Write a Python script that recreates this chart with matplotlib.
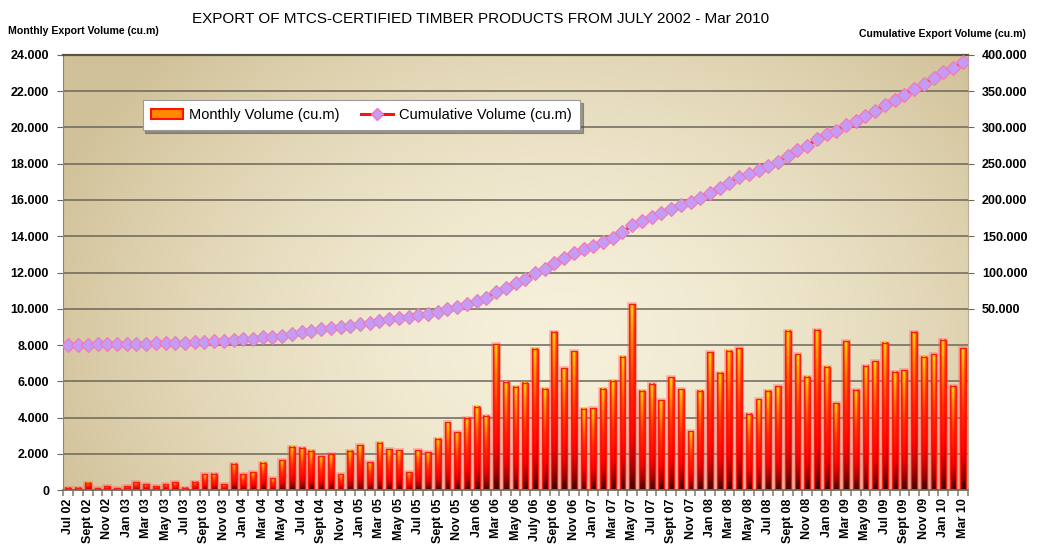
import numpy as np
import matplotlib
matplotlib.use("Agg")
import matplotlib.pyplot as plt
from matplotlib.patches import Patch
from matplotlib.lines import Line2D
from matplotlib.ticker import FuncFormatter, FixedLocator

plt.rcParams['font.family'] = ['Liberation Sans', 'DejaVu Sans']

# monthly export volume (cu.m), Jul 2002 .. Mar 2010
vol_2002 = [130, 130, 400, 90, 220, 90]
vol_2003 = [220, 420, 330, 220, 330, 420, 130, 460, 860, 900, 310, 1450]
vol_2004 = [860, 990, 1500, 640, 1650, 2390, 2330, 2170, 1850, 1960, 860, 2170]
vol_2005 = [2460, 1540, 2610, 2260, 2180, 990, 2180, 2070, 2840, 3740, 3190, 3980]
vol_2006 = [4600, 4110, 8050, 5980, 5690, 5930, 7780, 5580, 8720, 6730, 7650, 4480]
vol_2007 = [4510, 5580, 6020, 7340, 10240, 5470, 5870, 4950, 6220, 5560, 3250, 5470]
vol_2008 = [7610, 6480, 7690, 7820, 4220, 5010, 5470, 5720, 8790, 7490, 6240, 8830]
vol_2009 = [6790, 4790, 8220, 5540, 6860, 7100, 8130, 6530, 6620, 8720, 7360, 7490]
vol_2010 = [8290, 5740, 7820]

monthly = np.array(vol_2002 + vol_2003 + vol_2004 + vol_2005 + vol_2006
                   + vol_2007 + vol_2008 + vol_2009 + vol_2010, dtype=float)
cumulative = np.cumsum(monthly)

tick_labels = ["Jul 02", "Sept 02", "Nov 02",
               "Jan 03", "Mar 03", "May 03", "Jul 03", "Sept 03", "Nov 03",
               "Jan 04", "Mar 04", "May 04", "Jul 04", "Sept 04", "Nov 04",
               "Jan 05", "Mar 05", "May 05", "Jul 05", "Sept 05", "Nov 05",
               "Jan 06", "Mar 06", "May 06", "July 06", "Sept 06", "Nov 06",
               "Jan 07", "Mar 07", "May 07", "Jul 07", "Sept 07", "Nov 07",
               "Jan 08", "Mar 08", "May 08", "Jul 08", "Sept 08", "Nov 08",
               "Jan 09", "Mar 09", "May 09", "Jul 09", "Sept 09", "Nov 09",
               "Jan 10", "Mar 10"]

left_ticks = np.arange(0, 24001, 2000)
right_ticks = np.arange(50000, 400001, 50000)


def dot_thousands(v, pos=None):
    return f"{v:,.0f}".replace(",", ".")


def bar_gradient(n=64, m=16):
    v = np.linspace(0, 1, n)[:, None]
    u = np.linspace(0, 1, m)[None, :]
    h = 1 - np.abs(2 * u - 1)
    s = v * (0.55 + 0.45 * h ** 1.3)
    stops = [0.0, 0.08, 0.22, 0.5, 0.75, 0.95]
    cols = np.array([[0.2, 0.0, 0.0], [0.6, 0.0, 0.0], [1.0, 0.0, 0.0],
                     [1.0, 0.18, 0.0], [1.0, 0.58, 0.0], [1.0, 0.95, 0.05]])
    img = np.zeros((n, m, 3))
    for c in range(3):
        img[..., c] = np.interp(s, stops, cols[:, c])
    return img


def background(n=200, m=400):
    yy, xx = np.mgrid[0:1:n * 1j, 0:1:m * 1j]
    d = np.sqrt(((xx - 0.55) / 0.6) ** 2 + ((yy - 0.35) / 0.95) ** 2)
    d = np.clip(d, 0, 1) ** 1.6
    light = np.array([0.965, 0.94, 0.855])
    dark = np.array([0.82, 0.76, 0.6])
    return light[None, None, :] * (1 - d[..., None]) + dark[None, None, :] * d[..., None]


fig = plt.figure(figsize=(10.38, 5.45), dpi=100)
ax = fig.add_axes([0.0607, 0.1009, 0.8719, 0.7982])
x = np.arange(len(monthly))

ax.imshow(background(), extent=[0, 1, 0, 1], transform=ax.transAxes,
          aspect='auto', origin='lower', zorder=0)

for t in left_ticks:
    ax.axhline(t, color='#6b665a', lw=1.1, zorder=1)

bars = ax.bar(x, monthly, width=0.6, facecolor='none', edgecolor='#ff1a10',
              lw=1.0, zorder=3)
grad = bar_gradient()
for b in bars:
    ax.imshow(grad, extent=[b.get_x(), b.get_x() + b.get_width(), 0, b.get_height()],
              aspect='auto', origin='lower', zorder=2)
    # soft glow around the bar
    ax.add_patch(plt.Rectangle((b.get_x(), 0), b.get_width(), b.get_height(),
                               fill=False, edgecolor='#ff6060', lw=2.8, alpha=0.35, zorder=1.5))
ax.set_xlim(-0.55, len(monthly) - 0.45)
ax.set_ylim(0, 24000)

ax.yaxis.set_major_locator(FixedLocator(left_ticks))
ax.yaxis.set_major_formatter(FuncFormatter(dot_thousands))
ax.tick_params(axis='y', length=4, color='#6b665a', labelsize=9, pad=6)
for lab in ax.get_yticklabels():
    lab.set_fontweight('bold')

ax.set_xticks(x[::2])
ax.set_xticklabels(tick_labels, rotation=90, fontsize=9, fontweight='bold')
ax.set_xticks(np.arange(-0.5, len(monthly), 1), minor=True)
ax.tick_params(axis='x', which='major', length=0, pad=6)
ax.tick_params(axis='x', which='minor', length=4, color='#8a8578', width=1.2)

ax.spines['top'].set_color('#5a5446')
ax.spines['top'].set_linewidth(1.6)
ax.spines['bottom'].set_color('#7a7568')
ax.spines['bottom'].set_linewidth(1.4)
ax.spines['left'].set_color('#8a8578')
ax.spines['right'].set_color('#b8ae94')

ax2 = ax.twinx()
ax2.set_ylim(-200000, 400000)
ax2.plot(x, cumulative, color='#ff1010', lw=2.4, marker='D', ms=6.8,
         mfc='#c59cf5', mec='#f078b8', mew=0.8, zorder=5)
ax2.yaxis.set_major_locator(FixedLocator(right_ticks))
ax2.yaxis.set_major_formatter(FuncFormatter(dot_thousands))
ax2.tick_params(axis='y', length=4, color='#6b665a', labelsize=9, pad=6)
for lab in ax2.get_yticklabels():
    lab.set_fontweight('bold')
for s in ax2.spines.values():
    s.set_visible(False)

handles = [Patch(facecolor='#ff8a00', edgecolor='#ff1000', lw=1.5),
           Line2D([], [], color='#ff1010', lw=2.2, marker='D', ms=6,
                  mfc='#c59cf5', mec='#f078b8')]
leg = ax2.legend(handles, ["Monthly Volume (cu.m)", "Cumulative Volume (cu.m)"],
                 ncol=2, loc='lower left', bbox_to_anchor=(0.088, 0.828, 0.483, 0.087),
                 mode='expand', fontsize=10.5, frameon=True, fancybox=False,
                 shadow=True, borderaxespad=0, handlelength=2.2, handletextpad=0.4,
                 borderpad=0.55)
leg.get_frame().set_edgecolor('#9a9a9a')
leg.get_frame().set_linewidth(0.8)

fig.text(0.463, 0.965, "EXPORT OF MTCS-CERTIFIED TIMBER PRODUCTS FROM JULY 2002 - Mar 2010",
         ha='center', va='center', fontsize=11)
fig.text(0.008, 0.944, "Monthly Export Volume (cu.m)", ha='left', va='center',
         fontsize=7.6, fontweight='bold')
fig.text(0.988, 0.938, "Cumulative Export Volume (cu.m)", ha='right', va='center',
         fontsize=7.6, fontweight='bold')

fig.savefig("out.png", dpi=100)
